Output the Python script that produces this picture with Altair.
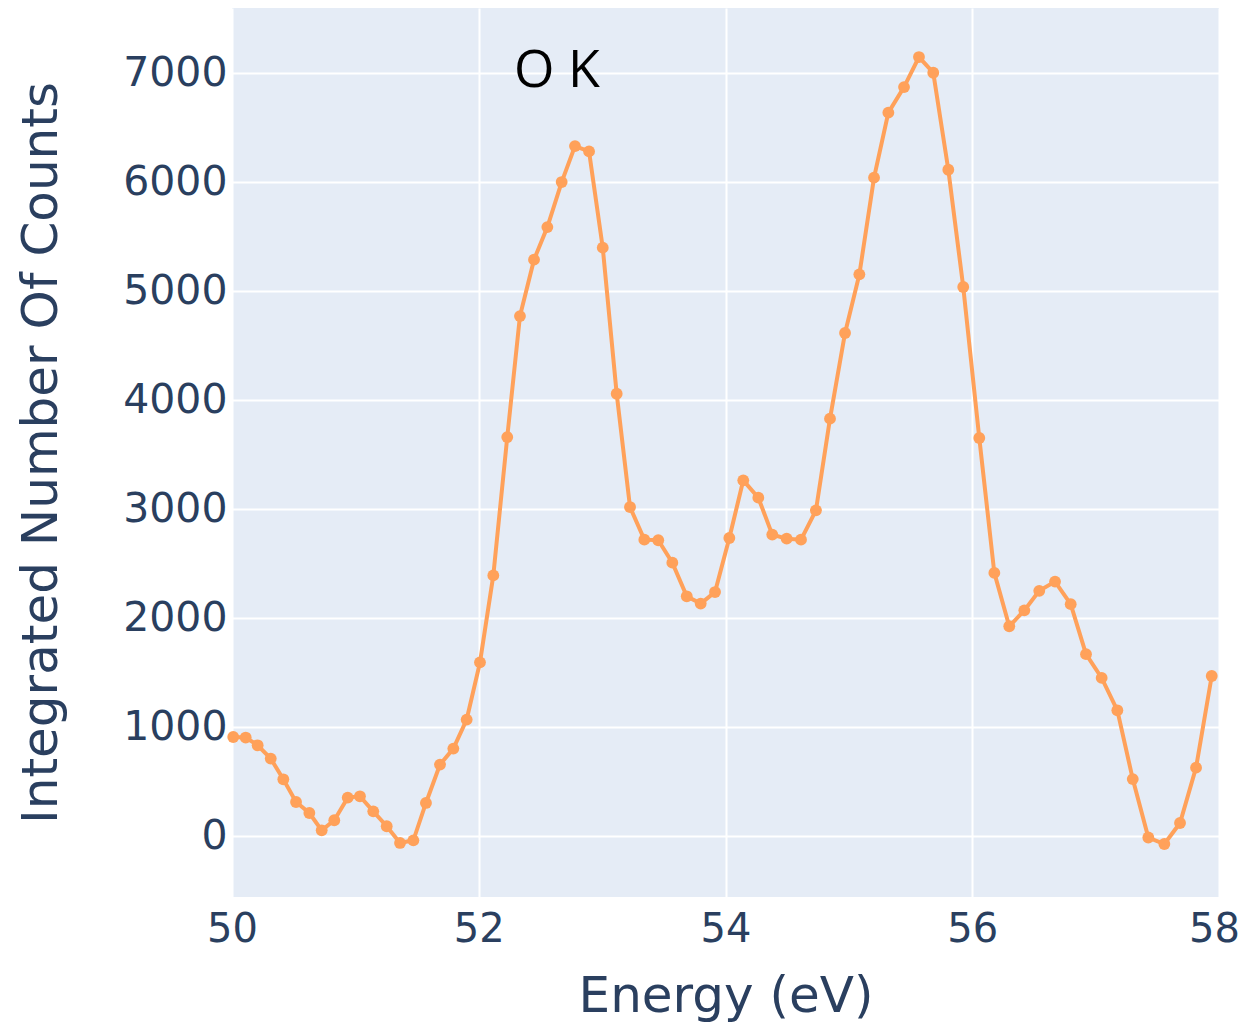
import altair as alt
import pandas as pd

energy = [50.01, 50.111, 50.208, 50.314, 50.416, 50.519, 50.627, 50.727, 50.829, 50.938,
          51.037, 51.145, 51.254, 51.362, 51.470, 51.572, 51.686, 51.794, 51.902, 52.010,
          52.118, 52.231, 52.334, 52.448, 52.556, 52.672, 52.780, 52.894, 53.005, 53.118,
          53.226, 53.342, 53.455, 53.569, 53.686, 53.799, 53.915, 54.031, 54.144, 54.266,
          54.379, 54.496, 54.612, 54.733, 54.847, 54.969, 55.085, 55.204, 55.320, 55.447,
          55.568, 55.684, 55.806, 55.927, 56.057, 56.179, 56.300, 56.422, 56.543, 56.671,
          56.798, 56.922, 57.049, 57.176, 57.301, 57.427, 57.557, 57.684, 57.814, 57.941]
counts = [911, 906, 835, 713, 523, 315, 214, 55, 147, 355,
          367, 229, 92, -61, -37, 306, 658, 805, 1071, 1596,
          2394, 3663, 4773, 5291, 5590, 6003, 6333, 6284, 5401, 4061,
          3021, 2722, 2716, 2511, 2202, 2135, 2241, 2737, 3266, 3107,
          2768, 2731, 2722, 2991, 3832, 4618, 5156, 6043, 6640, 6874,
          7150, 7006, 6116, 5040, 3655, 2417, 1927, 2073, 2252, 2337,
          2130, 1671, 1453, 1156, 525, -11, -71, 122, 630, 1471]

label_text = ["O K"]
label_x = [52.634]
label_y = [6877]

df = pd.DataFrame({"energy": energy, "counts": counts})
ann = pd.DataFrame({"x": label_x, "y": label_y, "t": label_text})

FONT = "DejaVu Sans"
AX = "#2a3f5f"

xenc = alt.X("energy:Q", scale=alt.Scale(domain=[50, 58], nice=False, zero=False),
             axis=alt.Axis(values=[50, 52, 54, 56, 58], format="d", title="Energy (eV)",
                           grid=True, gridColor="white", gridWidth=2,
                           domain=False, ticks=False, labelFontSize=40,
                           labelFont=FONT, labelColor=AX, labelPadding=12,
                           labelOffset={"condition": {"test": "datum.value == 58", "value": -5}, "value": 0},
                           titleFont=FONT, titleFontSize=50, titleFontWeight="normal",
                           titleColor=AX, titlePadding=22, labelFlush=False))
yenc = alt.Y("counts:Q", scale=alt.Scale(domain=[-557, 7600], nice=False, zero=False),
             axis=alt.Axis(values=[0, 1000, 2000, 3000, 4000, 5000, 6000, 7000], format="d",
                           title="Integrated Number Of Counts",
                           grid=True, gridColor="white", gridWidth=2,
                           domain=False, ticks=False, labelFontSize=41,
                           labelFont=FONT, labelColor=AX, labelPadding=5,
                           titleFont=FONT, titleFontSize=50, titleFontWeight="normal",
                           titleColor=AX, titlePadding=56))

line = alt.Chart(df).mark_line(
    color="#FFA15A", strokeWidth=4,
    point=alt.OverlayMarkDef(color="#FFA15A", size=140, filled=True, opacity=1)
).encode(x=xenc, y=yenc)

text = alt.Chart(ann).mark_text(
    font="Open Sans", fontSize=52, color="black", align="center", baseline="alphabetic"
).encode(x="x:Q", y="y:Q", text="t:N")

chart = alt.layer(line, text).properties(
    width=987, height=889,
    background="white",
    autosize=alt.AutoSizeParams(type="none"),
    padding={"left": 224, "top": 0, "right": 21, "bottom": 130},
).configure_view(fill="#E5ECF6", strokeWidth=0)

chart.save("out.html", embed_options={"renderer": "svg", "actions": False})
